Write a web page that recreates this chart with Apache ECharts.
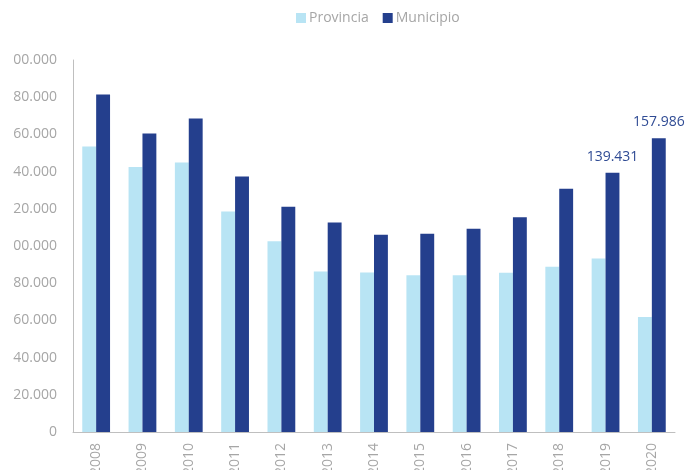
<!DOCTYPE html>
<html>
<head>
<meta charset="utf-8">
<script src="https://cdn.jsdelivr.net/npm/echarts@6/dist/echarts.min.js"></script>
<style>
  html, body { margin: 0; padding: 0; background: #fff; }
  #chart { width: 685px; height: 470px; }
</style>
</head>
<body>
<div id="chart"></div>
<script>
const years = ["2008", "2009", "2010", "2011", "2012", "2013", "2014", "2015", "2016", "2017", "2018", "2019", "2020"];
const provincia = [153500, 142500, 144900, 118600, 102500, 86300, 85700, 84300, 84300, 85600, 88800, 93300, 61800];
const municipio = [181500, 160500, 168600, 137300, 121100, 112700, 106000, 106600, 109300, 115500, 130800, 139431, 157986];
// the first digit of the tick labels is cut off in the original picture
const yTickLabels = ["0", "20.000", "40.000", "60.000", "80.000", "00.000", "20.000", "40.000", "60.000", "80.000", "00.000"];
const labelled = ["2019", "2020"];

const grey = "#a6a6a6";
const fmt = (v) => String(v).replace(/\B(?=(\d{3})+(?!\d))/g, ".");

const chart = echarts.init(document.getElementById("chart"));
chart.setOption({
  animation: false,
  textStyle: { fontFamily: "Open Sans" },
  legend: {
    top: 6,
    left: 291,
    itemWidth: 10,
    itemHeight: 10,
    itemGap: 14,
    icon: "rect",
    textStyle: { color: grey, fontSize: 14, padding: [0, 0, 0, -2] },
    data: ["Provincia", "Municipio"],
  },
  grid: { left: 73, right: 10, top: 60, bottom: 38, outerBoundsMode: "none" },
  xAxis: {
    type: "category",
    data: years,
    axisLine: { lineStyle: { color: "#bfbfbf" } },
    axisTick: { interval: 3, length: 5, lineStyle: { color: "#bfbfbf" } },
    axisLabel: { interval: 0, rotate: 90, margin: 11, color: grey, fontSize: 14 },
  },
  yAxis: {
    type: "value",
    min: 0,
    max: 200000,
    interval: 20000,
    splitLine: { show: false },
    axisTick: { show: false },
    axisLine: { show: true, lineStyle: { color: "#bfbfbf" } },
    axisLabel: {
      margin: 16,
      color: grey,
      fontSize: 14,
      formatter: (v) => yTickLabels[Math.round(v / 20000)],
    },
  },
  series: [
    {
      name: "Provincia",
      type: "bar",
      data: provincia,
      barWidth: "30%",
      barGap: "0%",
      itemStyle: { color: "#b8e4f4" },
    },
    {
      name: "Municipio",
      type: "bar",
      data: municipio,
      barWidth: "30%",
      itemStyle: { color: "#243f8d" },
      label: {
        show: true,
        position: "top",
        distance: 9,
        color: "#2f4b94",
        fontSize: 14,
        formatter: (p) => (labelled.includes(p.name) ? fmt(p.value) : ""),
      },
    },
  ],
});
</script>
</body>
</html>
